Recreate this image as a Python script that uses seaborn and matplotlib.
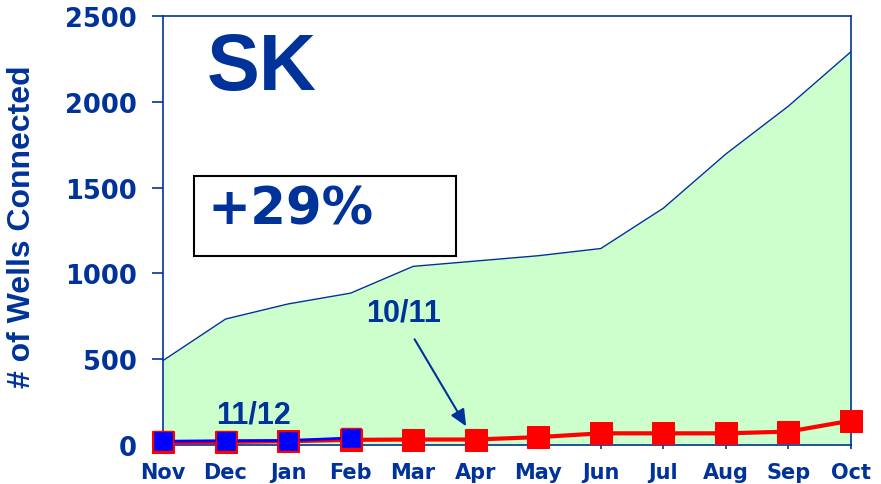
import matplotlib
matplotlib.use("Agg")
import matplotlib.pyplot as plt
from matplotlib.patches import Rectangle
import numpy as np
import seaborn as sns

months = ["Nov", "Dec", "Jan", "Feb", "Mar", "Apr", "May", "Jun", "Jul", "Aug", "Sep", "Oct"]
total_wells = [492, 734, 822, 885, 1041, 1072, 1103, 1145, 1380, 1696, 1975, 2292]
series_10_11 = [15, 18, 22, 30, 32, 32, 46, 68, 68, 68, 78, 142]
series_11_12 = [22, 25, 26, 41]
y_ticks = [0, 500, 1000, 1500, 2000, 2500]

NAVY = "#003399"

sns.set_style("white")
plt.rcParams["font.family"] = ["DejaVu Sans"]

fig = plt.figure(figsize=(8.81, 4.85), dpi=100)
ax = fig.add_axes([163 / 881, 1 - 446 / 485, 688 / 881, 429 / 485])

x = np.arange(len(months))

# green area for total wells connected
ax.fill_between(x, total_wells, 0, color="#CCFFCC", lw=0, zorder=1)
sns.lineplot(x=x, y=total_wells, ax=ax, color=NAVY, linewidth=1, zorder=2)

# 10/11 red series
sns.lineplot(x=x, y=series_10_11, ax=ax, color="#FF0000", linewidth=3,
             marker="s", markersize=16, markeredgecolor="#FF0000",
             clip_on=False, zorder=5)
# 11/12 blue series
sns.lineplot(x=x[:len(series_11_12)], y=series_11_12, ax=ax, color="#0000FF",
             linewidth=2, marker="s", markersize=15, markeredgecolor="#FF0000",
             markeredgewidth=1, clip_on=False, zorder=6)

ax.set_xlim(0, len(months) - 1)
ax.set_ylim(0, 2500)
ax.set_xticks(x)
ax.set_xticklabels(months)
ax.set_yticks(y_ticks)
ax.set_yticklabels([str(v) for v in y_ticks])

for s in ax.spines.values():
    s.set_color(NAVY)
    s.set_linewidth(1.2)

ax.tick_params(axis="y", direction="out", length=8, width=1.2, color=NAVY,
               labelcolor=NAVY, labelsize=18.5, pad=11, left=True)
ax.tick_params(axis="x", direction="out", length=3, width=1.2, color=NAVY,
               labelcolor=NAVY, labelsize=15, pad=9, bottom=True)
for lab in ax.get_xticklabels() + ax.get_yticklabels():
    lab.set_fontweight("bold")

ax.set_ylabel("# of Wells Connected", color=NAVY, fontsize=23, fontweight="bold",
              family="Liberation Sans")
ax.yaxis.set_label_coords(-(163 - 37) / 688, 0.51)

# annotations
ax.text(0.064, 0.878, "SK", transform=ax.transAxes, color=NAVY, fontsize=57,
        fontweight="bold", family="Liberation Sans", va="center", ha="left")
ax.add_patch(Rectangle((0.045, 0.4406), 0.381, 0.1865, transform=ax.transAxes,
                       fill=True, facecolor="white", edgecolor="black", lw=1.5, zorder=3))
ax.text(0.064, 0.55, "+29%", transform=ax.transAxes, color=NAVY, fontsize=37,
        fontweight="bold", va="center", ha="left", zorder=4)
ax.text(3.85, 770, "10/11", color=NAVY, fontsize=22, fontweight="bold",
        family="Liberation Sans", ha="center", va="center", zorder=4)
ax.text(1.45, 180, "11/12", color=NAVY, fontsize=22, fontweight="bold",
        family="Liberation Sans", ha="center", va="center", zorder=7)
ax.annotate("", xy=(4.87, 95), xytext=(4.0, 630),
            arrowprops=dict(arrowstyle="-|>,head_length=1.0,head_width=0.45",
                            color=NAVY, lw=1.5), zorder=4)

fig.savefig("out.png", dpi=100)
